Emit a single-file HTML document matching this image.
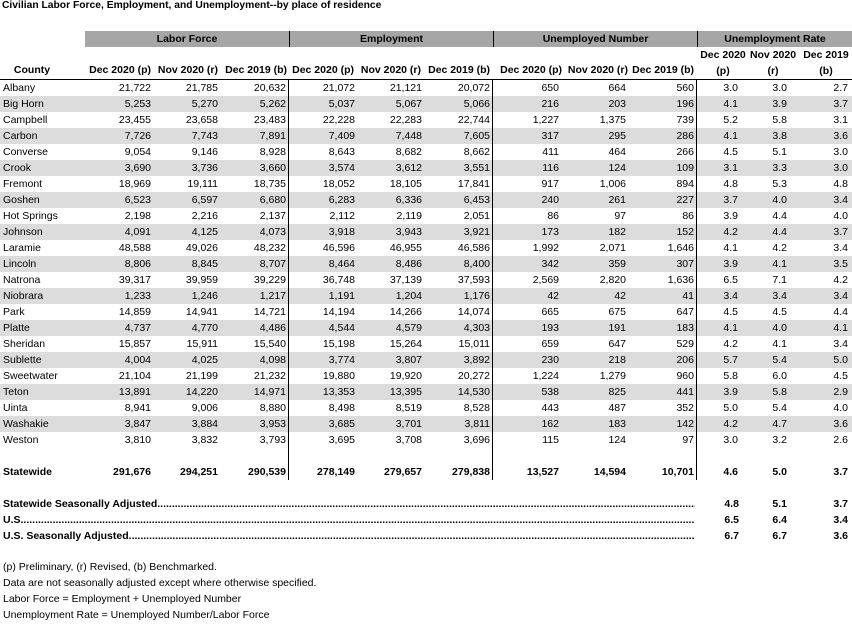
<!DOCTYPE html>
<html><head><meta charset="utf-8"><style>
body{margin:0;width:852px;height:624px;background:#fff;font-family:"Liberation Sans",Arial,sans-serif;font-size:10.5px;color:#000;position:relative;overflow:hidden}
.a{position:absolute;white-space:nowrap}
.t{left:2px;top:0px;font-weight:bold;font-size:10.3px}
.band{top:31px;height:16px;background:#a6a6a6;font-weight:bold;line-height:16px;text-align:center}
table{position:absolute;left:0;top:79px;border-collapse:collapse;border-top:1px solid #000}
td{height:16px;padding:0;line-height:16px;text-align:right}
td:first-child{text-align:left;padding-left:3px;width:82px}
tr.g td{background:#dcdcdc}
td.b{border-right:1px solid #000}
.c1{width:66px;padding-right:2px}.c2{width:65px;padding-right:2px}.c3{width:66px;padding-right:2px}
.r1{width:41px;padding-right:12px}.r2{width:37px;padding-right:13px}.r3{width:48px;padding-right:4px}
tr.s td{font-weight:bold}
.h{top:64px;font-weight:bold;text-align:right}
.dot{font-weight:bold;left:3px;width:692px;overflow:hidden}
.rv{font-weight:bold;text-align:right}
.n{left:3px;font-size:10.5px}
</style></head><body>
<div class="a t">Civilian Labor Force, Employment, and Unemployment--by place of residence</div>
<div class="a band" style="left:85px;width:204px">Labor Force</div>
<div class="a band" style="left:290px;width:203px">Employment</div>
<div class="a band" style="left:494px;width:203px">Unemployed Number</div>
<div class="a band" style="left:698px;width:154px">Unemployment Rate</div>
<div class="a" style="left:289px;top:31px;width:1px;height:16px;background:#000"></div>
<div class="a" style="left:493px;top:31px;width:1px;height:16px;background:#000"></div>
<div class="a" style="left:697px;top:31px;width:1px;height:16px;background:#000"></div>
<div class="a h" style="left:3px;width:58px;text-align:center">County</div>
<div class="a h" style="left:60px;width:91px">Dec 2020 (p)</div>
<div class="a h" style="left:130px;width:88px">Nov 2020 (r)</div>
<div class="a h" style="left:200px;width:87px">Dec 2019 (b)</div>
<div class="a h" style="left:260px;width:94px">Dec 2020 (p)</div>
<div class="a h" style="left:330px;width:91px">Nov 2020 (r)</div>
<div class="a h" style="left:400px;width:90px">Dec 2019 (b)</div>
<div class="a h" style="left:470px;width:92px">Dec 2020 (p)</div>
<div class="a h" style="left:540px;width:88px">Nov 2020 (r)</div>
<div class="a h" style="left:600px;width:94px">Dec 2019 (b)</div>
<div class="a h" style="left:698px;width:50px;top:49px;text-align:center">Dec 2020</div>
<div class="a h" style="left:748px;width:50px;top:49px;text-align:center">Nov 2020</div>
<div class="a h" style="left:800px;width:52px;top:49px;text-align:center">Dec 2019</div>
<div class="a h" style="left:698px;width:50px;top:65px;text-align:center">(p)</div>
<div class="a h" style="left:748px;width:50px;top:65px;text-align:center">(r)</div>
<div class="a h" style="left:800px;width:52px;top:65px;text-align:center">(b)</div>
<table>
<tr><td>Albany</td><td class="c1">21,722</td><td class="c2">21,785</td><td class="c3 b">20,632</td><td class="c1">21,072</td><td class="c2">21,121</td><td class="c3 b">20,072</td><td class="c1">650</td><td class="c2">664</td><td class="c3 b">560</td><td class="r1">3.0</td><td class="r2">3.0</td><td class="r3">2.7</td></tr>
<tr class="g"><td>Big Horn</td><td class="c1">5,253</td><td class="c2">5,270</td><td class="c3 b">5,262</td><td class="c1">5,037</td><td class="c2">5,067</td><td class="c3 b">5,066</td><td class="c1">216</td><td class="c2">203</td><td class="c3 b">196</td><td class="r1">4.1</td><td class="r2">3.9</td><td class="r3">3.7</td></tr>
<tr><td>Campbell</td><td class="c1">23,455</td><td class="c2">23,658</td><td class="c3 b">23,483</td><td class="c1">22,228</td><td class="c2">22,283</td><td class="c3 b">22,744</td><td class="c1">1,227</td><td class="c2">1,375</td><td class="c3 b">739</td><td class="r1">5.2</td><td class="r2">5.8</td><td class="r3">3.1</td></tr>
<tr class="g"><td>Carbon</td><td class="c1">7,726</td><td class="c2">7,743</td><td class="c3 b">7,891</td><td class="c1">7,409</td><td class="c2">7,448</td><td class="c3 b">7,605</td><td class="c1">317</td><td class="c2">295</td><td class="c3 b">286</td><td class="r1">4.1</td><td class="r2">3.8</td><td class="r3">3.6</td></tr>
<tr><td>Converse</td><td class="c1">9,054</td><td class="c2">9,146</td><td class="c3 b">8,928</td><td class="c1">8,643</td><td class="c2">8,682</td><td class="c3 b">8,662</td><td class="c1">411</td><td class="c2">464</td><td class="c3 b">266</td><td class="r1">4.5</td><td class="r2">5.1</td><td class="r3">3.0</td></tr>
<tr class="g"><td>Crook</td><td class="c1">3,690</td><td class="c2">3,736</td><td class="c3 b">3,660</td><td class="c1">3,574</td><td class="c2">3,612</td><td class="c3 b">3,551</td><td class="c1">116</td><td class="c2">124</td><td class="c3 b">109</td><td class="r1">3.1</td><td class="r2">3.3</td><td class="r3">3.0</td></tr>
<tr><td>Fremont</td><td class="c1">18,969</td><td class="c2">19,111</td><td class="c3 b">18,735</td><td class="c1">18,052</td><td class="c2">18,105</td><td class="c3 b">17,841</td><td class="c1">917</td><td class="c2">1,006</td><td class="c3 b">894</td><td class="r1">4.8</td><td class="r2">5.3</td><td class="r3">4.8</td></tr>
<tr class="g"><td>Goshen</td><td class="c1">6,523</td><td class="c2">6,597</td><td class="c3 b">6,680</td><td class="c1">6,283</td><td class="c2">6,336</td><td class="c3 b">6,453</td><td class="c1">240</td><td class="c2">261</td><td class="c3 b">227</td><td class="r1">3.7</td><td class="r2">4.0</td><td class="r3">3.4</td></tr>
<tr><td>Hot Springs</td><td class="c1">2,198</td><td class="c2">2,216</td><td class="c3 b">2,137</td><td class="c1">2,112</td><td class="c2">2,119</td><td class="c3 b">2,051</td><td class="c1">86</td><td class="c2">97</td><td class="c3 b">86</td><td class="r1">3.9</td><td class="r2">4.4</td><td class="r3">4.0</td></tr>
<tr class="g"><td>Johnson</td><td class="c1">4,091</td><td class="c2">4,125</td><td class="c3 b">4,073</td><td class="c1">3,918</td><td class="c2">3,943</td><td class="c3 b">3,921</td><td class="c1">173</td><td class="c2">182</td><td class="c3 b">152</td><td class="r1">4.2</td><td class="r2">4.4</td><td class="r3">3.7</td></tr>
<tr><td>Laramie</td><td class="c1">48,588</td><td class="c2">49,026</td><td class="c3 b">48,232</td><td class="c1">46,596</td><td class="c2">46,955</td><td class="c3 b">46,586</td><td class="c1">1,992</td><td class="c2">2,071</td><td class="c3 b">1,646</td><td class="r1">4.1</td><td class="r2">4.2</td><td class="r3">3.4</td></tr>
<tr class="g"><td>Lincoln</td><td class="c1">8,806</td><td class="c2">8,845</td><td class="c3 b">8,707</td><td class="c1">8,464</td><td class="c2">8,486</td><td class="c3 b">8,400</td><td class="c1">342</td><td class="c2">359</td><td class="c3 b">307</td><td class="r1">3.9</td><td class="r2">4.1</td><td class="r3">3.5</td></tr>
<tr><td>Natrona</td><td class="c1">39,317</td><td class="c2">39,959</td><td class="c3 b">39,229</td><td class="c1">36,748</td><td class="c2">37,139</td><td class="c3 b">37,593</td><td class="c1">2,569</td><td class="c2">2,820</td><td class="c3 b">1,636</td><td class="r1">6.5</td><td class="r2">7.1</td><td class="r3">4.2</td></tr>
<tr class="g"><td>Niobrara</td><td class="c1">1,233</td><td class="c2">1,246</td><td class="c3 b">1,217</td><td class="c1">1,191</td><td class="c2">1,204</td><td class="c3 b">1,176</td><td class="c1">42</td><td class="c2">42</td><td class="c3 b">41</td><td class="r1">3.4</td><td class="r2">3.4</td><td class="r3">3.4</td></tr>
<tr><td>Park</td><td class="c1">14,859</td><td class="c2">14,941</td><td class="c3 b">14,721</td><td class="c1">14,194</td><td class="c2">14,266</td><td class="c3 b">14,074</td><td class="c1">665</td><td class="c2">675</td><td class="c3 b">647</td><td class="r1">4.5</td><td class="r2">4.5</td><td class="r3">4.4</td></tr>
<tr class="g"><td>Platte</td><td class="c1">4,737</td><td class="c2">4,770</td><td class="c3 b">4,486</td><td class="c1">4,544</td><td class="c2">4,579</td><td class="c3 b">4,303</td><td class="c1">193</td><td class="c2">191</td><td class="c3 b">183</td><td class="r1">4.1</td><td class="r2">4.0</td><td class="r3">4.1</td></tr>
<tr><td>Sheridan</td><td class="c1">15,857</td><td class="c2">15,911</td><td class="c3 b">15,540</td><td class="c1">15,198</td><td class="c2">15,264</td><td class="c3 b">15,011</td><td class="c1">659</td><td class="c2">647</td><td class="c3 b">529</td><td class="r1">4.2</td><td class="r2">4.1</td><td class="r3">3.4</td></tr>
<tr class="g"><td>Sublette</td><td class="c1">4,004</td><td class="c2">4,025</td><td class="c3 b">4,098</td><td class="c1">3,774</td><td class="c2">3,807</td><td class="c3 b">3,892</td><td class="c1">230</td><td class="c2">218</td><td class="c3 b">206</td><td class="r1">5.7</td><td class="r2">5.4</td><td class="r3">5.0</td></tr>
<tr><td>Sweetwater</td><td class="c1">21,104</td><td class="c2">21,199</td><td class="c3 b">21,232</td><td class="c1">19,880</td><td class="c2">19,920</td><td class="c3 b">20,272</td><td class="c1">1,224</td><td class="c2">1,279</td><td class="c3 b">960</td><td class="r1">5.8</td><td class="r2">6.0</td><td class="r3">4.5</td></tr>
<tr class="g"><td>Teton</td><td class="c1">13,891</td><td class="c2">14,220</td><td class="c3 b">14,971</td><td class="c1">13,353</td><td class="c2">13,395</td><td class="c3 b">14,530</td><td class="c1">538</td><td class="c2">825</td><td class="c3 b">441</td><td class="r1">3.9</td><td class="r2">5.8</td><td class="r3">2.9</td></tr>
<tr><td>Uinta</td><td class="c1">8,941</td><td class="c2">9,006</td><td class="c3 b">8,880</td><td class="c1">8,498</td><td class="c2">8,519</td><td class="c3 b">8,528</td><td class="c1">443</td><td class="c2">487</td><td class="c3 b">352</td><td class="r1">5.0</td><td class="r2">5.4</td><td class="r3">4.0</td></tr>
<tr class="g"><td>Washakie</td><td class="c1">3,847</td><td class="c2">3,884</td><td class="c3 b">3,953</td><td class="c1">3,685</td><td class="c2">3,701</td><td class="c3 b">3,811</td><td class="c1">162</td><td class="c2">183</td><td class="c3 b">142</td><td class="r1">4.2</td><td class="r2">4.7</td><td class="r3">3.6</td></tr>
<tr><td>Weston</td><td class="c1">3,810</td><td class="c2">3,832</td><td class="c3 b">3,793</td><td class="c1">3,695</td><td class="c2">3,708</td><td class="c3 b">3,696</td><td class="c1">115</td><td class="c2">124</td><td class="c3 b">97</td><td class="r1">3.0</td><td class="r2">3.2</td><td class="r3">2.6</td></tr>
<tr><td></td><td class="c1"></td><td class="c2"></td><td class="c3 b"></td><td class="c1"></td><td class="c2"></td><td class="c3 b"></td><td class="c1"></td><td class="c2"></td><td class="c3 b"></td><td class="r1"></td><td class="r2"></td><td class="r3"></td></tr>
<tr class="s"><td>Statewide</td><td class="c1">291,676</td><td class="c2">294,251</td><td class="c3 b">290,539</td><td class="c1">278,149</td><td class="c2">279,657</td><td class="c3 b">279,838</td><td class="c1">13,527</td><td class="c2">14,594</td><td class="c3 b">10,701</td><td class="r1">4.6</td><td class="r2">5.0</td><td class="r3">3.7</td></tr>
</table>
<div class="a dot" style="top:498px">Statewide Seasonally Adjusted...........................................................................................................................................................................................................................................</div>
<div class="a dot" style="top:514px">U.S.....................................................................................................................................................................................................................................................................</div>
<div class="a dot" style="top:530px">U.S. Seasonally Adjusted..................................................................................................................................................................................................................................................</div>
<div class="a rv" style="left:700px;width:39px;top:498px">4.8</div><div class="a rv" style="left:750px;width:37px;top:498px">5.1</div><div class="a rv" style="left:800px;width:48px;top:498px">3.7</div>
<div class="a rv" style="left:700px;width:39px;top:514px">6.5</div><div class="a rv" style="left:750px;width:37px;top:514px">6.4</div><div class="a rv" style="left:800px;width:48px;top:514px">3.4</div>
<div class="a rv" style="left:700px;width:39px;top:530px">6.7</div><div class="a rv" style="left:750px;width:37px;top:530px">6.7</div><div class="a rv" style="left:800px;width:48px;top:530px">3.6</div>
<div class="a n" style="top:561px">(p) Preliminary, (r) Revised, (b) Benchmarked.</div>
<div class="a n" style="top:577px">Data are not seasonally adjusted except where otherwise specified.</div>
<div class="a n" style="top:593px">Labor Force = Employment + Unemployed Number</div>
<div class="a n" style="top:609px">Unemployment Rate = Unemployed Number/Labor Force</div>
</body></html>
